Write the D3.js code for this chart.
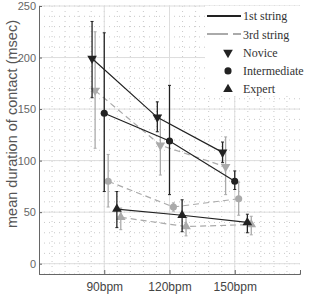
<!DOCTYPE html>
<html>
<head>
<meta charset="utf-8">
<script src="https://cdn.jsdelivr.net/npm/d3@7"></script>
<style>
  body { margin: 0; background: #fff; }
  .tick text { font-family: "Liberation Sans", Arial, sans-serif; fill: #666; }
  .domain, .tick line { stroke: #666; }
</style>
</head>
<body>
<div id="chart"></div>
<script>
var tempos = [90, 120, 150];
var yTicks = [0, 50, 100, 150, 200, 250];

var novice1st   = [199, 142, 108];
var novice1stLo = [161, 128, 98];
var novice1stHi = [235, 157, 118];
var novice3rd   = [168, 115, 94];
var novice3rdLo = [112, 86, 67];
var novice3rdHi = [225, 144, 123];

var inter1st   = [146, 119, 80];
var inter1stLo = [70, 67, 72];
var inter1stHi = [224, 173, 90];
var inter3rd   = [80, 55, 63];
var inter3rdLo = [55, 51, 47];
var inter3rdHi = [106, 59, 79];

var expert1st   = [53, 47, 40];
var expert1stLo = [35, 31, 30];
var expert1stHi = [70, 62, 48];
var expert3rd   = [45, 36, 38];
var expert3rdLo = [33, 27, 28];
var expert3rdHi = [54, 45, 46];

var width = 309, height = 294;
var margin = {top: 6, right: 9, bottom: 20, left: 39};

var x = d3.scaleLinear().domain([60, 180]).range([margin.left, width - margin.right]);
var y = d3.scaleLinear().domain([-10, 250]).range([height - margin.bottom, margin.top]);

var svg = d3.select("#chart").append("svg")
    .attr("width", width)
    .attr("height", height);

// minor dotted grid
svg.append("g").selectAll("line")
    .data(d3.range(66, 180, 6))
  .enter().append("line")
    .attr("x1", function(d) { return x(d); }).attr("x2", function(d) { return x(d); })
    .attr("y1", y(250)).attr("y2", y(-10))
    .attr("stroke", "#bbb").attr("stroke-width", 0.8).attr("stroke-dasharray", "1,4");
svg.append("g").selectAll("line")
    .data(d3.range(-10, 251, 10))
  .enter().append("line")
    .attr("x1", x(60)).attr("x2", x(180))
    .attr("y1", function(d) { return y(d); }).attr("y2", function(d) { return y(d); })
    .attr("stroke", "#bbb").attr("stroke-width", 0.8).attr("stroke-dasharray", "1,4");

// major grid
svg.append("g").selectAll("line")
    .data(tempos)
  .enter().append("line")
    .attr("x1", function(d) { return x(d); }).attr("x2", function(d) { return x(d); })
    .attr("y1", y(250)).attr("y2", y(-10))
    .attr("stroke", "#ddd");
svg.append("g").selectAll("line")
    .data(yTicks)
  .enter().append("line")
    .attr("x1", x(60)).attr("x2", x(180))
    .attr("y1", function(d) { return y(d); }).attr("y2", function(d) { return y(d); })
    .attr("stroke", "#ddd");

// legend box (covers grid)
svg.append("rect")
    .attr("x", 205).attr("y", margin.top)
    .attr("width", width - margin.right - 205).attr("height", 90)
    .attr("fill", "#fff");

// axes
svg.append("g")
    .attr("transform", "translate(0," + y(-10) + ")")
    .call(d3.axisBottom(x).tickValues(tempos).tickSize(-4).tickPadding(8)
      .tickFormat(function(d) { return d + "bpm"; }))
    .call(function(g) { g.selectAll("text").attr("font-size", 12).style("fill", "#444"); });

svg.append("g")
    .attr("transform", "translate(" + margin.left + ",0)")
    .call(d3.axisLeft(y).tickValues(yTicks).tickSize(-3).tickPadding(3))
    .call(function(g) { g.selectAll("text").attr("font-size", 11); });

svg.append("text")
    .attr("transform", "translate(12,124) rotate(-90)")
    .attr("text-anchor", "middle")
    .attr("dy", "0.35em")
    .attr("font-family", "Liberation Sans, Arial, sans-serif")
    .attr("font-size", 14.5)
    .attr("fill", "#555")
    .text("mean duration of contact (msec)");

var black = "#222", grey = "#aaa";

var series = [
  {mean: novice1st, lo: novice1stLo, hi: novice1stHi, shape: "down", color: black, dash: null, dx: -5.6},
  {mean: novice3rd, lo: novice3rdLo, hi: novice3rdHi, shape: "down", color: grey, dash: "6,4", dx: -4.2},
  {mean: inter1st, lo: inter1stLo, hi: inter1stHi, shape: "circle", color: black, dash: null, dx: 0},
  {mean: inter3rd, lo: inter3rdLo, hi: inter3rdHi, shape: "circle", color: grey, dash: "6,4", dx: 1.8},
  {mean: expert1st, lo: expert1stLo, hi: expert1stHi, shape: "up", color: black, dash: null, dx: 5.8},
  {mean: expert3rd, lo: expert3rdLo, hi: expert3rdHi, shape: "up", color: grey, dash: "6,4", dx: 7.6}
];

function symbolPath(shape) {
  if (shape == "circle") return d3.symbol().type(d3.symbolCircle).size(40)();
  return d3.symbol().type(d3.symbolTriangle).size(40)();
}

// draw 3rd string first so black sits on top
var order = [1, 3, 5, 0, 2, 4];
order.forEach(function(i) {
  var s = series[i];
  var pts = tempos.map(function(t, j) {
    return {x: x(t + s.dx), m: y(s.mean[j]), lo: y(s.lo[j]), hi: y(s.hi[j])};
  });
  var g = svg.append("g");
  g.append("path")
      .attr("d", d3.line().x(function(d) { return d.x; }).y(function(d) { return d.m; })(pts))
      .attr("fill", "none")
      .attr("stroke", s.color)
      .attr("stroke-width", 1.2)
      .attr("stroke-dasharray", s.dash);
  g.selectAll(".err").data(pts).enter().append("line")
      .attr("x1", function(d) { return d.x; }).attr("x2", function(d) { return d.x; })
      .attr("y1", function(d) { return d.lo; }).attr("y2", function(d) { return d.hi; })
      .attr("stroke", s.color).attr("stroke-width", 1.3);
  g.selectAll(".cap").data(pts).enter().append("path")
      .attr("d", function(d) {
        return "M" + (d.x - 1.5) + "," + d.hi + "h3M" + (d.x - 1.5) + "," + d.lo + "h3";
      })
      .attr("stroke", s.color).attr("stroke-width", 1);
  g.selectAll(".pt").data(pts).enter().append("path")
      .attr("d", symbolPath(s.shape))
      .attr("transform", function(d) {
        return "translate(" + d.x + "," + d.m + ")" + (s.shape == "down" ? " rotate(180)" : "");
      })
      .attr("fill", s.color);
});

// legend
var lg = svg.append("g").attr("font-family", "Liberation Serif, Times New Roman, serif")
    .attr("font-size", 12).attr("fill", "#333");
lg.append("line").attr("x1", 207).attr("x2", 241).attr("y1", 16).attr("y2", 16)
    .attr("stroke", black).attr("stroke-width", 2);
lg.append("line").attr("x1", 207).attr("x2", 241).attr("y1", 34).attr("y2", 34)
    .attr("stroke", grey).attr("stroke-width", 2).attr("stroke-dasharray", "21,5");
var legendText = ["1st string", "3rd string", "Novice", "Intermediate", "Expert"];
var legendShapes = [null, null, "down", "circle", "up"];
legendText.forEach(function(t, i) {
  var yy = 16 + i * 18.3;
  lg.append("text").attr("x", 243).attr("y", yy).attr("dy", "0.35em").text(t);
  if (legendShapes[i]) {
    lg.append("path")
        .attr("d", symbolPath(legendShapes[i]))
        .attr("transform", "translate(228," + yy + ")" + (legendShapes[i] == "down" ? " rotate(180)" : ""))
        .attr("fill", black);
  }
});
</script>
</body>
</html>
